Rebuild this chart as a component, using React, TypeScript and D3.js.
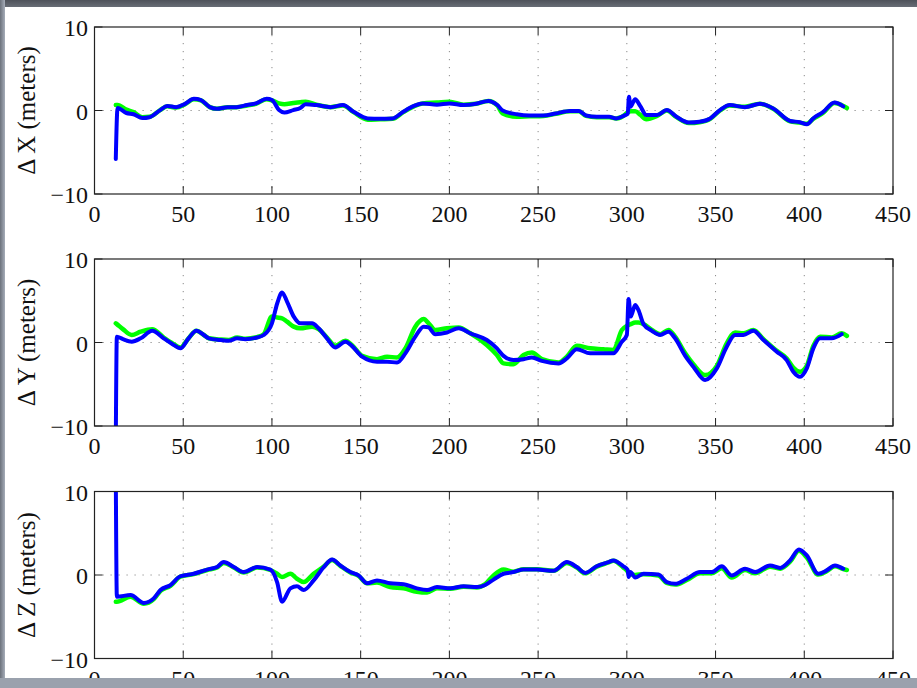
import React from "react";
import * as d3 from "d3";

const W = 917;
const H = 688;

const xTicks = [0, 50, 100, 150, 200, 250, 300, 350, 400, 450];
const yTicks = [-10, 0, 10];
const yLabels = ["Δ X (meters)", "Δ Y (meters)", "Δ Z (meters)"];

// ΔX panel
const tX = [12, 13, 18, 22, 27, 31, 37, 41, 46, 51, 56, 60, 65, 69, 75, 80, 86, 91, 97, 100, 104, 107, 112, 116, 119, 125, 133, 140, 146, 154, 161, 168, 174, 180, 185, 193, 200, 208, 215, 222, 227, 230, 238, 245, 253, 260, 268, 273, 277, 283, 290, 294, 299, 300.5, 301.2, 302, 304.7, 307.5, 311, 317, 322.5, 328, 335, 341, 347, 352.5, 358, 366.5, 375, 382.5, 392, 397.5, 401.5, 405, 410.5, 417, 422, 424];
const xBlue = [-5.8, 0.3, -0.3, -0.45, -0.9, -0.8, 0.05, 0.55, 0.4, 0.8, 1.4, 1.25, 0.4, 0.2, 0.4, 0.4, 0.65, 0.85, 1.4, 1.25, 0.05, -0.25, 0.05, 0.3, 0.75, 0.65, 0.4, 0.65, -0.15, -0.95, -1.0, -0.95, -0.15, 0.55, 0.85, 0.7, 0.85, 0.65, 0.8, 1.15, 0.65, 0.0, -0.45, -0.6, -0.6, -0.35, -0.05, -0.05, -0.6, -0.75, -0.75, -0.95, -0.55, -0.4, 1.65, 0.45, 1.35, 0.55, -0.55, -0.55, 0.05, -0.75, -1.45, -1.35, -0.95, 0.05, 0.65, 0.4, 0.8, 0.25, -1.25, -1.4, -1.65, -0.95, -0.2, 0.95, 0.5, NaN];
const xGreen = [0.65, 0.65, 0.1, -0.2, -0.8, -0.75, 0.05, 0.5, 0.35, 0.75, 1.35, 1.2, 0.4, 0.2, 0.4, 0.4, 0.6, 0.8, 1.35, 1.2, 0.85, 0.75, 0.9, 1.0, 1.05, 0.7, 0.4, 0.6, -0.2, -1.1, -1.05, -1.0, -0.2, 0.5, 0.85, 0.95, 1.05, 0.7, 0.8, 1.15, 0.6, -0.35, -0.75, -0.7, -0.65, -0.4, -0.1, -0.1, -0.65, -0.8, -0.8, -0.95, -0.5, -0.2, -0.15, -0.1, -0.1, -0.5, -1.05, -0.65, 0.0, -0.8, -1.5, -1.4, -1.0, 0.0, 0.6, 0.45, 0.8, 0.2, -1.3, -1.45, -1.6, -1.0, -0.3, 0.9, 0.55, 0.3];

// ΔY panel
const tY = [12, 12.6, 16, 21, 26, 32.5, 39, 44, 48.4, 53, 57.4, 61.6, 64.4, 71, 75.6, 80.4, 85, 91.6, 95.4, 100, 103, 105.7, 108.5, 112.3, 116, 122.6, 126.3, 131, 135.7, 141.4, 145, 150.8, 159.2, 164.9, 170.5, 175.2, 180.8, 185.5, 188.3, 192, 198.6, 205.2, 211.8, 221.1, 226.8, 230.5, 236.1, 241.8, 246.5, 252.1, 261.5, 266.2, 271.8, 279.3, 286.8, 292.4, 297.2, 300, 301, 302.2, 304.7, 306.5, 309.4, 314.1, 318.8, 323.5, 327.2, 332.9, 337.5, 344.1, 350.7, 356.3, 361, 365.7, 371.3, 377, 384.5, 390.1, 393.8, 397.6, 401.4, 405.1, 408.9, 415.5, 421.1, 424];
const yBlue = [-12, 0.7, 0.4, 0.1, 0.5, 1.4, 0.5, -0.2, -0.7, 0.5, 1.4, 0.9, 0.5, 0.3, 0.2, 0.5, 0.4, 0.6, 0.9, 2.3, 4.7, 6.0, 4.9, 3.1, 2.3, 2.3, 1.7, 0.5, -0.6, 0.1, -0.4, -1.7, -2.3, -2.3, -2.4, -1.3, 0.7, 1.9, 1.8, 1.0, 1.2, 1.7, 1.1, 0.3, -0.7, -1.6, -2.1, -2.0, -1.8, -2.2, -2.5, -1.9, -0.8, -1.3, -1.3, -1.3, 0.1, 0.9, 5.2, 3.1, 4.5, 3.9, 2.2, 1.4, 0.9, 1.3, 0.5, -1.6, -2.9, -4.5, -3.1, -0.5, 0.9, 0.9, 1.4, 0.3, -1.1, -2.1, -3.5, -4.1, -3.1, -0.7, 0.5, 0.5, 1.0, NaN];
const yGreen = [2.3, 2.2, 1.6, 0.9, 1.3, 1.6, 0.6, -0.1, -0.6, 0.5, 1.4, 0.9, 0.5, 0.35, 0.3, 0.6, 0.45, 0.65, 1.0, 3.1, 3.0, 2.9, 2.5, 1.9, 1.7, 1.9, 1.6, 0.6, -0.4, 0.2, -0.3, -1.6, -2.0, -1.7, -1.8, -0.7, 1.9, 2.8, 2.3, 1.5, 1.7, 1.8, 1.1, -0.3, -1.5, -2.5, -2.6, -1.5, -1.2, -2.0, -2.4, -1.7, -0.4, -0.7, -0.8, -0.9, 1.5, 2.0, 2.1, 2.2, 2.4, 2.4, 2.2, 1.5, 1.0, 1.5, 0.7, -1.3, -2.6, -3.9, -2.8, -0.1, 1.2, 1.1, 1.5, 0.4, -1.0, -1.9, -3.0, -3.5, -2.8, -0.4, 0.7, 0.6, 1.1, 0.8];

// ΔZ panel
const tZ = [12, 12.6, 20.3, 27.8, 33.4, 37.2, 42.8, 48.4, 55.9, 63.5, 69.1, 72.8, 78.5, 84.1, 91.6, 99.1, 102.9, 105.7, 110.4, 114.1, 117.9, 123.5, 129.2, 133.9, 138.5, 144.2, 148.8, 153.6, 159.2, 166.7, 174.2, 181.7, 187.4, 193, 200.5, 208, 215.5, 220.2, 224.9, 230.5, 236.1, 241.8, 249.3, 258.7, 266.2, 271.8, 276.5, 283, 289.7, 292.4, 298, 300.5, 301, 302, 304.7, 309.4, 317.8, 322.5, 327.2, 333.8, 341.3, 347.9, 353.5, 359.1, 366.6, 372.3, 380.7, 386.4, 392, 397, 401.4, 407.9, 412.6, 417.3, 422, 424];
const zBlue = [12, -2.6, -2.4, -3.35, -2.8, -1.8, -1.2, -0.15, 0.15, 0.65, 0.95, 1.55, 0.95, 0.35, 0.95, 0.65, -0.85, -3.2, -1.6, -1.35, -1.8, -0.65, 0.95, 1.85, 1.15, 0.35, -0.05, -1.0, -0.65, -1.0, -1.1, -1.6, -1.8, -1.45, -1.6, -1.35, -1.45, -1.2, -0.55, 0.15, 0.35, 0.65, 0.65, 0.5, 1.55, 0.95, 0.25, 1.05, 1.55, 1.75, 1.05, 0.6, -0.25, 0.35, -0.3, 0.15, 0.05, -0.85, -1.05, -0.45, 0.35, 0.35, 1.05, -0.05, 0.75, 0.35, 1.15, 0.85, 1.75, 3.05, 2.35, 0.15, 0.55, 1.15, 0.75, NaN];
const zGreen = [-3.2, -3.2, -2.6, -3.45, -2.9, -1.9, -1.3, -0.2, 0.1, 0.6, 0.9, 1.45, 0.9, 0.3, 0.9, 0.6, 0.15, -0.25, 0.15, -0.45, -0.85, 0.15, 1.0, 1.8, 1.1, 0.3, -0.1, -1.0, -0.9, -1.45, -1.6, -2.0, -2.1, -1.6, -1.65, -1.4, -1.5, -1.1, -0.05, 0.65, 0.4, 0.7, 0.7, 0.5, 1.45, 0.9, 0.2, 1.0, 1.5, 1.7, 0.9, 0.4, 0.2, 0.1, 0.0, 0.1, -0.05, -0.95, -1.15, -0.6, 0.2, 0.2, 0.8, -0.3, 0.6, 0.2, 1.0, 0.75, 1.6, 2.9, 2.1, 0.05, 0.45, 1.05, 0.7, 0.6];

const panels = [
  { t: tX, green: xGreen, blue: xBlue, label: yLabels[0] },
  { t: tY, green: yGreen, blue: yBlue, label: yLabels[1] },
  { t: tZ, green: zGreen, blue: zBlue, label: yLabels[2] },
];

const LEFT = 94.5;
const RIGHT = 893;
const TOPS = [27, 259, 491.5];
const PH = 167;
const FONT = "'Liberation Serif', 'Times New Roman', serif";

function Panel({ idx }: { idx: number }) {
  const p = panels[idx];
  const top = TOPS[idx];
  const x = d3.scaleLinear().domain([0, 450]).range([LEFT, RIGHT]);
  const y = d3.scaleLinear().domain([-10, 10]).range([top + PH, top]);
  const mk = (vals: number[]) =>
    d3
      .line<number>()
      .defined((v) => !isNaN(v))
      .x((_, i) => x(p.t[i]))
      .y((v) => y(v))
      .curve(d3.curveMonotoneX)(vals) || "";
  const clipId = `clip${idx}`;
  const tl = 8;
  return (
    <g>
      <defs>
        <clipPath id={clipId}>
          <rect x={LEFT} y={top} width={RIGHT - LEFT} height={PH} />
        </clipPath>
      </defs>
      {xTicks.slice(1, -1).map((t) => (
        <line key={"g" + t} x1={x(t)} x2={x(t)} y1={top} y2={top + PH} stroke="#8a8a8a" strokeWidth={1} strokeDasharray="1.2 6.8" />
      ))}
      <line x1={LEFT} x2={RIGHT} y1={y(0)} y2={y(0)} stroke="#8a8a8a" strokeWidth={1} strokeDasharray="1.2 6.8" />
      {xTicks.map((t) => (
        <g key={"t" + t}>
          <line x1={x(t)} x2={x(t)} y1={top + PH} y2={top + PH - tl} stroke="#222" strokeWidth={1} />
          <line x1={x(t)} x2={x(t)} y1={top} y2={top + tl} stroke="#222" strokeWidth={1} />
          <text x={x(t)} y={top + PH + 28} textAnchor="middle" fontFamily={FONT} fontSize={24} fill="#111">
            {t}
          </text>
        </g>
      ))}
      {yTicks.map((v) => (
        <g key={"y" + v}>
          <line x1={LEFT} x2={LEFT + tl} y1={y(v)} y2={y(v)} stroke="#222" strokeWidth={1} />
          <line x1={RIGHT} x2={RIGHT - tl} y1={y(v)} y2={y(v)} stroke="#222" strokeWidth={1} />
          <text x={88} y={y(v) + 9} textAnchor="end" fontFamily={FONT} fontSize={24} fill="#111">
            {v < 0 ? "\u2212" + Math.abs(v) : String(v)}
          </text>
        </g>
      ))}
      <g clipPath={`url(#${clipId})`}>
        <path d={mk(p.green)} fill="none" stroke="#00ff00" strokeWidth={4.5} strokeLinejoin="round" strokeLinecap="round" />
        <path d={mk(p.blue)} fill="none" stroke="#0000ff" strokeWidth={4} strokeLinejoin="round" strokeLinecap="round" />
      </g>
      <rect x={LEFT} y={top} width={RIGHT - LEFT} height={PH} fill="none" stroke="#222" strokeWidth={1.2} />
      <text
        x={35}
        y={top + PH / 2}
        transform={`rotate(-90, 35, ${top + PH / 2})`}
        textAnchor="middle"
        fontFamily={FONT}
        fontSize={25}
        fill="#111"
      >
        {p.label}
      </text>
    </g>
  );
}

export default function App() {
  return (
    <svg width={W} height={H} style={{ position: "absolute", left: 0, top: 0 }}>
      <defs>
        <linearGradient id="topg" x1="0" y1="0" x2="0" y2="1">
          <stop offset="0" stopColor="#4e525a" />
          <stop offset="1" stopColor="#686d76" />
        </linearGradient>
        <linearGradient id="leftg" x1="0" y1="0" x2="1" y2="0">
          <stop offset="0" stopColor="#6b717b" />
          <stop offset="1" stopColor="#a6adb9" />
        </linearGradient>
      </defs>
      <rect x={0} y={0} width={W} height={H} fill="#ffffff" />
      {[0, 1, 2].map((i) => (
        <Panel key={i} idx={i} />
      ))}
      <rect x={0} y={0} width={W} height={7} fill="url(#topg)" />
      <rect x={0} y={0} width={5} height={H} fill="url(#leftg)" />
      <rect x={0} y={678} width={W} height={H - 678} fill="#9aa1ad" />
    </svg>
  );
}
